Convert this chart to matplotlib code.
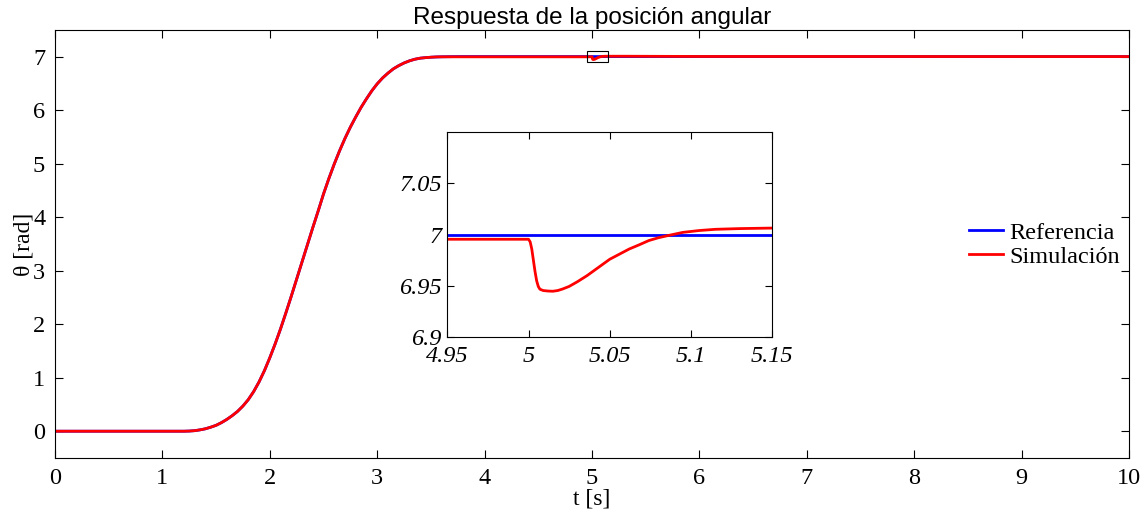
import matplotlib
matplotlib.use("Agg")
import matplotlib.pyplot as plt
from matplotlib.patches import Rectangle

# reference trajectory
ref_t = [0.0, 1.2, 1.25, 1.3, 1.35, 1.4, 1.45, 1.5, 1.55, 1.6, 1.65, 1.7, 1.75, 1.8,
         1.85, 1.9, 1.95, 2.0, 2.05, 2.1, 2.15, 2.2, 2.25, 2.3, 2.35, 2.4, 2.45, 2.5,
         2.55, 2.6, 2.65, 2.7, 2.75, 2.8, 2.85, 2.9, 2.95, 3.0, 3.05, 3.1, 3.15, 3.2,
         3.25, 3.3, 3.35, 3.4, 3.45, 3.5, 3.55, 3.6, 3.7, 3.8, 10.0]
ref_y = [0.0, 0.0, 0.003, 0.01, 0.025, 0.045, 0.075, 0.11, 0.16, 0.22, 0.29, 0.37,
         0.47, 0.59, 0.74, 0.92, 1.13, 1.37, 1.63, 1.91, 2.21, 2.52, 2.84, 3.16, 3.48,
         3.80, 4.11, 4.43, 4.72, 4.99, 5.24, 5.47, 5.68, 5.87, 6.05, 6.21, 6.36, 6.49,
         6.60, 6.69, 6.77, 6.83, 6.88, 6.92, 6.95, 6.97, 6.98, 6.988, 6.993, 6.996,
         6.999, 7.0, 7.0]

# simulated response: follows the reference, then the disturbance at t = 5 s
dist_t = [5.0, 5.001, 5.002, 5.003, 5.004, 5.005, 5.006, 5.007, 5.009, 5.012, 5.015,
          5.018, 5.021, 5.025, 5.03, 5.036, 5.043, 5.05, 5.056, 5.062, 5.068, 5.074,
          5.08, 5.087, 5.095, 5.105, 5.115, 5.13, 5.15, 5.3, 6.0, 10.0]
dist_y = [6.9955, 6.993, 6.986, 6.975, 6.964, 6.955, 6.9495, 6.9468, 6.9455, 6.945,
          6.9448, 6.9455, 6.947, 6.9495, 6.954, 6.960, 6.968, 6.976, 6.981, 6.986,
          6.990, 6.9942, 6.997, 6.9995, 7.0022, 7.004, 7.0052, 7.0059, 7.0064, 7.0065,
          7.002, 7.0]
sim_t = ref_t[:-3] + [3.7, 3.8] + dist_t
sim_y = ref_y[:-4] + [6.995, 6.9955, 6.9955] + dist_y

main_xticks = [0, 1, 2, 3, 4, 5, 6, 7, 8, 9, 10]
main_yticks = [0, 1, 2, 3, 4, 5, 6, 7]
zoom_xlim = (4.95, 5.15)
zoom_ylim = (6.9, 7.1)
zoom_xticks = [4.95, 5.0, 5.05, 5.1, 5.15]
zoom_xlabels = ["4.95", "5", "5.05", "5.1", "5.15"]
zoom_yticks = [6.9, 6.95, 7.0, 7.05]
zoom_ylabels = ["6.9", "6.95", "7", "7.05"]

serif = "Liberation Serif"
sans = "Liberation Sans"

fig = plt.figure(figsize=(11.44, 5.14), dpi=100)
ax = fig.add_axes([0.048, 0.109, 0.939, 0.833])
ax.plot(ref_t, ref_y, color="#0000ff", linewidth=2.0, label="Referencia")
ax.plot(sim_t, sim_y, color="#ff0000", linewidth=2.0, label="Simulación")
ax.set_xlim(0, 10)
ax.set_ylim(-0.5, 7.5)
ax.set_xticks(main_xticks)
ax.set_yticks(main_yticks)
ax.tick_params(direction="in", top=True, right=True, length=6, labelsize=17.5, pad=7)
for lab in ax.get_xticklabels() + ax.get_yticklabels():
    lab.set_fontfamily(serif)
ax.set_xlabel("t [s]", fontfamily=serif, fontsize=17, labelpad=0)
ax.set_ylabel("θ [rad]", fontfamily=serif, fontsize=17)
ax.yaxis.set_label_coords(-0.019, 0.5)
ax.set_title("Respuesta de la posición angular", fontfamily=sans, fontsize=17.5, pad=4)
ax.add_patch(Rectangle((zoom_xlim[0], zoom_ylim[0]), zoom_xlim[1] - zoom_xlim[0],
                       zoom_ylim[1] - zoom_ylim[0], fill=False, edgecolor="black",
                       linewidth=0.8, zorder=5))
ax.legend(loc="center left", bbox_to_anchor=(0.831, 0.498), frameon=False,
          prop={"family": serif, "size": 17.5}, handlelength=1.4,
          handletextpad=0.25, labelspacing=0.1)

ins = fig.add_axes([0.391, 0.344, 0.284, 0.399])
ins.plot(ref_t, ref_y, color="#0000ff", linewidth=2.0)
ins.plot(sim_t, sim_y, color="#ff0000", linewidth=2.0)
ins.set_xlim(*zoom_xlim)
ins.set_ylim(*zoom_ylim)
ins.set_xticks(zoom_xticks)
ins.set_xticklabels(zoom_xlabels)
ins.set_yticks(zoom_yticks)
ins.set_yticklabels(zoom_ylabels)
ins.tick_params(direction="in", top=True, right=True, length=5, labelsize=17.5)
ins.tick_params(axis="x", pad=6)
ins.tick_params(axis="y", pad=4)
for lab in ins.get_xticklabels() + ins.get_yticklabels():
    lab.set_fontfamily(serif)
    lab.set_fontstyle("italic")

fig.savefig("out.png", dpi=100)
